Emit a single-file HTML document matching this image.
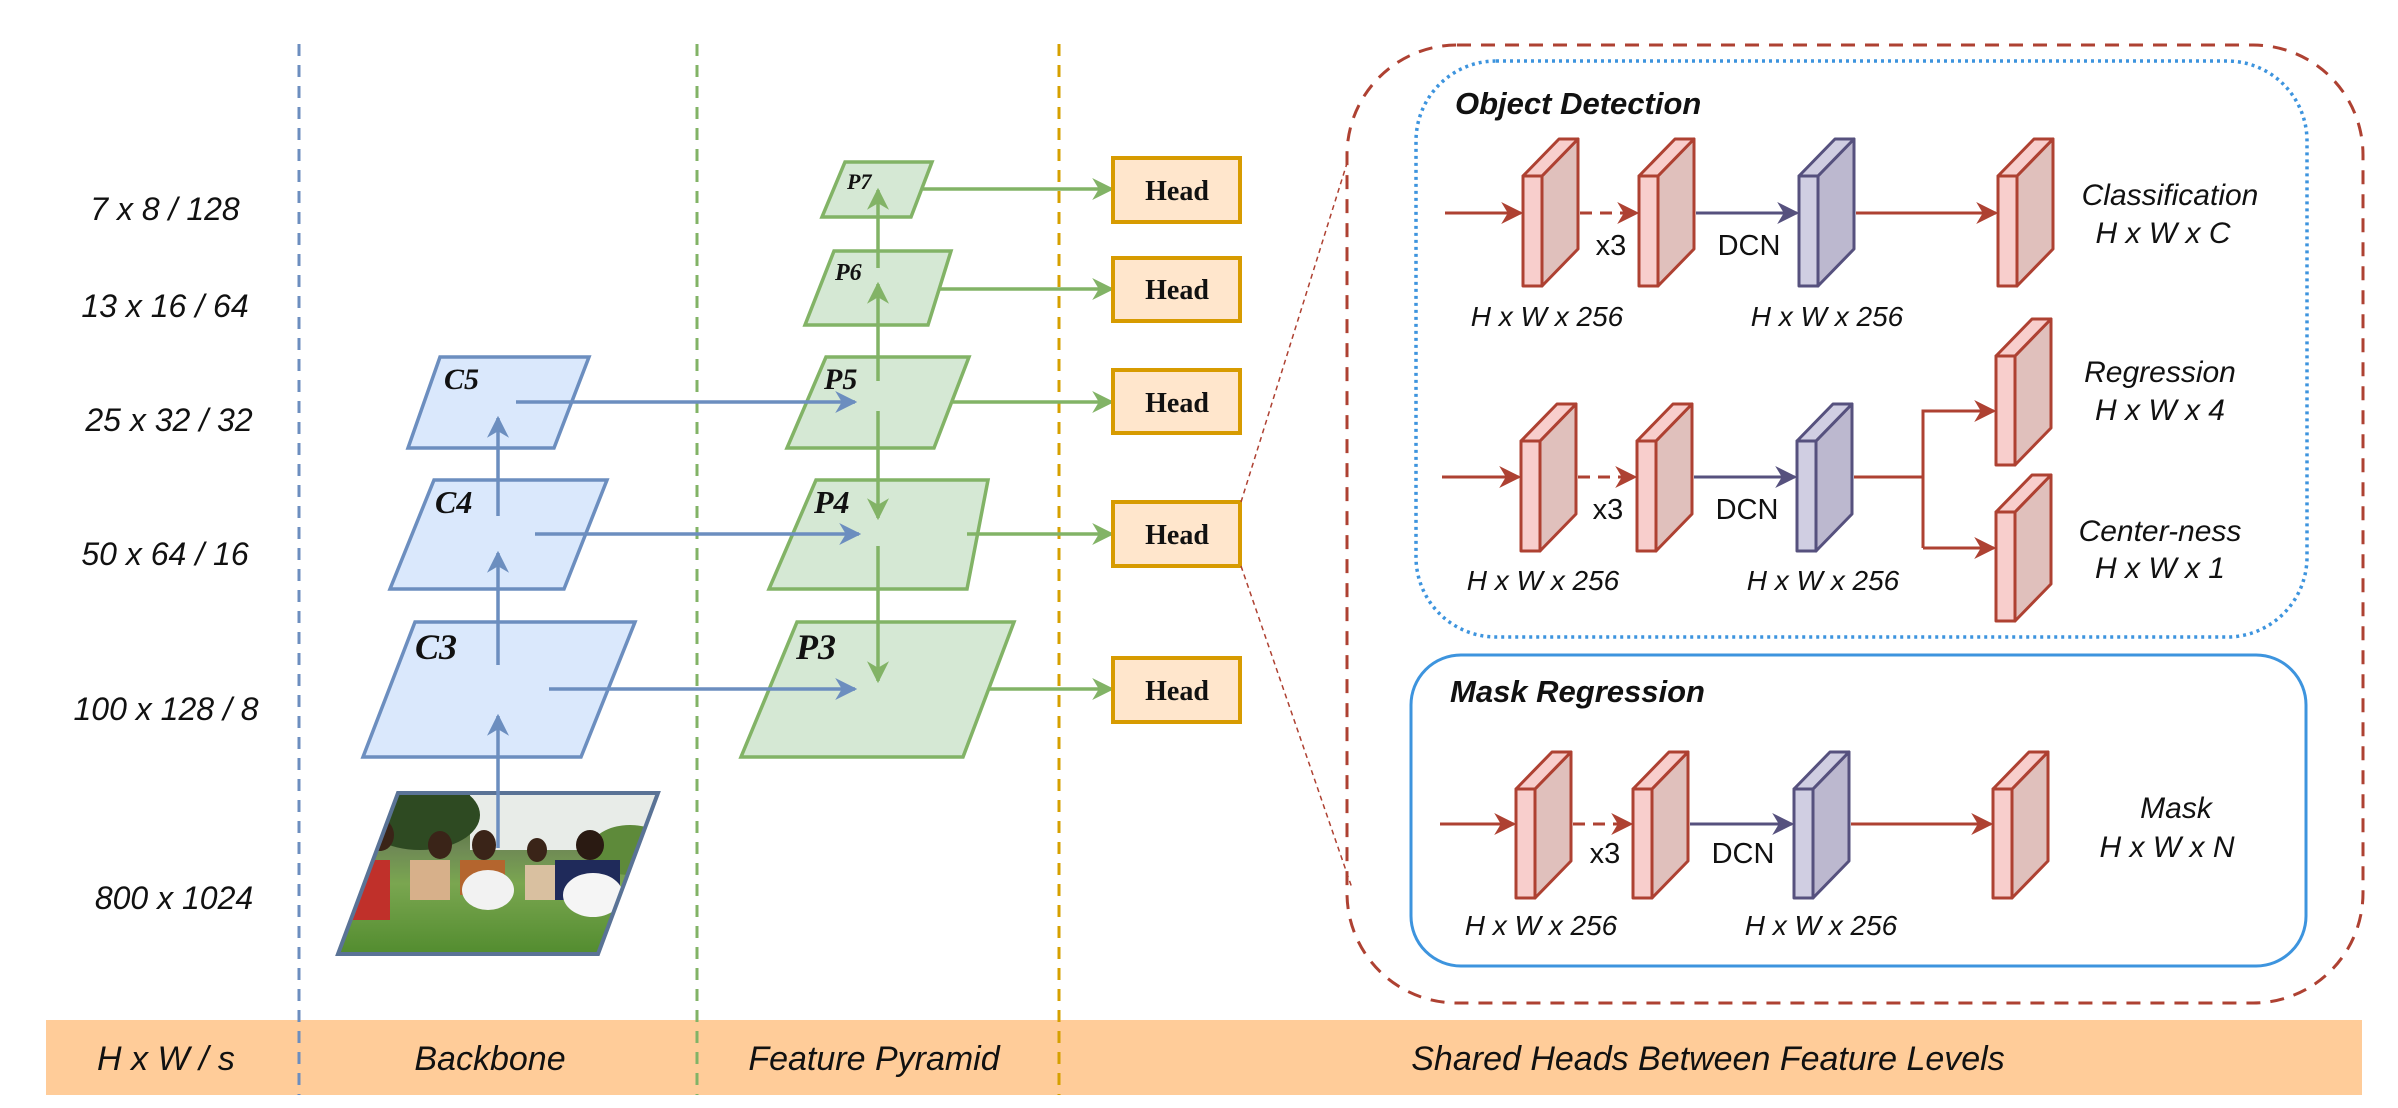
<!DOCTYPE html>
<html><head><meta charset="utf-8"><style>html,body{margin:0;padding:0;background:#fff}svg{display:block}</style></head>
<body>
<svg width="2398" height="1108" viewBox="0 0 2398 1108" xmlns="http://www.w3.org/2000/svg">
<defs>
<marker id="ag" viewBox="0 0 10 10" refX="9" refY="5" markerWidth="22" markerHeight="22" orient="auto" markerUnits="userSpaceOnUse"><path d="M0,0 L10,5 L0,10 L3,5 z" fill="#82b366"/></marker>
<marker id="ab2" viewBox="0 0 10 10" refX="9" refY="5" markerWidth="22" markerHeight="22" orient="auto" markerUnits="userSpaceOnUse"><path d="M0,0 L10,5 L0,10 L3,5 z" fill="#6c8ebf"/></marker>
<marker id="ar" viewBox="0 0 10 10" refX="9" refY="5" markerWidth="22" markerHeight="22" orient="auto" markerUnits="userSpaceOnUse"><path d="M0,0 L10,5 L0,10 L3,5 z" fill="#ae4132"/></marker>
<marker id="ap" viewBox="0 0 10 10" refX="9" refY="5" markerWidth="22" markerHeight="22" orient="auto" markerUnits="userSpaceOnUse"><path d="M0,0 L10,5 L0,10 L3,5 z" fill="#56517e"/></marker>
<clipPath id="ph"><polygon points="398,793 658,793 598,954 338,954"/></clipPath>
<linearGradient id="sky" x1="0" y1="0" x2="0" y2="1"><stop offset="0" stop-color="#3d5a2a"/><stop offset="0.35" stop-color="#6f8a55"/><stop offset="0.55" stop-color="#7aa650"/><stop offset="1" stop-color="#4f8a2c"/></linearGradient>
</defs>

<rect x="46" y="1020" width="2316" height="75" fill="#ffcc99"/>
<g font-family="Liberation Sans, sans-serif" font-style="italic" font-size="34" fill="#111" text-anchor="middle">
<text x="166" y="1070">H x W / s</text>
<text x="490" y="1070">Backbone</text>
<text x="874" y="1070">Feature Pyramid</text>
<text x="1708" y="1070">Shared Heads Between Feature Levels</text>
</g>

<line x1="299" y1="44" x2="299" y2="1095" stroke="#6c8ebf" stroke-width="3" stroke-dasharray="12,9"/>
<line x1="697" y1="44" x2="697" y2="1095" stroke="#82b366" stroke-width="3" stroke-dasharray="12,9"/>
<line x1="1059" y1="44" x2="1059" y2="1095" stroke="#d6a000" stroke-width="3" stroke-dasharray="12,9"/>

<g font-family="Liberation Sans, sans-serif" font-style="italic" font-size="32" fill="#111" text-anchor="middle">
<text x="165" y="220">7 x 8 / 128</text>
<text x="165" y="317">13 x 16 / 64</text>
<text x="169" y="431">25 x 32 / 32</text>
<text x="165" y="565">50 x 64 / 16</text>
<text x="166" y="720">100 x 128 / 8</text>
<text x="174" y="909">800 x 1024</text>
</g>

<g fill="#dae8fc" stroke="#6c8ebf" stroke-width="3.5">
<polygon points="440,357 589,357 554,448 408,448"/>
<polygon points="434,480 607,480 564,589 390,589"/>
<polygon points="415,622 635,622 581,757 363,757"/>
</g>
<g clip-path="url(#ph)">
<rect x="330" y="790" width="340" height="170" fill="url(#sky)"/>
<rect x="470" y="790" width="200" height="60" fill="#e8ece8"/>
<ellipse cx="420" cy="815" rx="60" ry="35" fill="#2e4a22"/>
<ellipse cx="630" cy="850" rx="40" ry="25" fill="#5e8a3a"/>
<rect x="350" y="860" width="40" height="60" fill="#c0302a"/>
<ellipse cx="380" cy="835" rx="14" ry="16" fill="#3a2418"/>
<rect x="410" y="860" width="40" height="40" fill="#d7b08a"/>
<ellipse cx="440" cy="845" rx="12" ry="14" fill="#3a2418"/>
<rect x="460" y="860" width="45" height="35" fill="#b4652e"/>
<ellipse cx="484" cy="845" rx="12" ry="15" fill="#3a2418"/>
<ellipse cx="488" cy="890" rx="26" ry="20" fill="#f2f2f2"/>
<rect x="525" y="865" width="30" height="35" fill="#d9c0a0"/>
<ellipse cx="537" cy="850" rx="10" ry="12" fill="#3a2418"/>
<rect x="555" y="860" width="65" height="40" fill="#1f2a5a"/>
<ellipse cx="590" cy="845" rx="14" ry="15" fill="#2a1a12"/>
<ellipse cx="593" cy="895" rx="30" ry="22" fill="#f5f5f5"/>
</g>
<polygon points="398,793 658,793 598,954 338,954" fill="none" stroke="#5a7396" stroke-width="4"/>
<g font-family="Liberation Serif, serif" font-style="italic" font-weight="bold" fill="#111">
<text x="444" y="389" font-size="30">C5</text>
<text x="435" y="513" font-size="32">C4</text>
<text x="415" y="659" font-size="36">C3</text>
</g>

<g fill="#d5e8d4" stroke="#82b366" stroke-width="3.5">
<polygon points="845,162 932,162 911,217 822,217"/>
<polygon points="834,251 951,251 928,325 805,325"/>
<polygon points="826,357 969,357 934,448 787,448"/>
<polygon points="816,480 988,480 967,589 769,589"/>
<polygon points="797,622 1014,622 963,757 741,757"/>
</g>
<g font-family="Liberation Serif, serif" font-style="italic" font-weight="bold" fill="#111">
<text x="847" y="189" font-size="22">P7</text>
<text x="835" y="280" font-size="24">P6</text>
<text x="824" y="389" font-size="30">P5</text>
<text x="814" y="513" font-size="32">P4</text>
<text x="796" y="659" font-size="36">P3</text>
</g>

<g stroke="#6c8ebf" stroke-width="3.5" fill="none">
<line x1="498" y1="848" x2="498" y2="716" marker-end="url(#ab2)"/>
<line x1="498" y1="665" x2="498" y2="553" marker-end="url(#ab2)"/>
<line x1="498" y1="516" x2="498" y2="418" marker-end="url(#ab2)"/>
<line x1="516" y1="402" x2="855" y2="402" marker-end="url(#ab2)"/>
<line x1="535" y1="534" x2="859" y2="534" marker-end="url(#ab2)"/>
<line x1="549" y1="689" x2="855" y2="689" marker-end="url(#ab2)"/>
</g>
<g stroke="#82b366" stroke-width="3.5" fill="none">
<line x1="878" y1="381" x2="878" y2="284" marker-end="url(#ag)"/>
<line x1="878" y1="268" x2="878" y2="190" marker-end="url(#ag)"/>
<line x1="878" y1="411" x2="878" y2="518" marker-end="url(#ag)"/>
<line x1="878" y1="546" x2="878" y2="681" marker-end="url(#ag)"/>
<line x1="923" y1="189" x2="1112" y2="189" marker-end="url(#ag)"/>
<line x1="938" y1="289" x2="1112" y2="289" marker-end="url(#ag)"/>
<line x1="953" y1="402" x2="1112" y2="402" marker-end="url(#ag)"/>
<line x1="967" y1="534" x2="1112" y2="534" marker-end="url(#ag)"/>
<line x1="989" y1="689" x2="1112" y2="689" marker-end="url(#ag)"/>
</g>
<g fill="#ffe6cc" stroke="#d79b00" stroke-width="4">
<rect x="1113" y="158" width="127" height="64"/>
<rect x="1113" y="258" width="127" height="63"/>
<rect x="1113" y="370" width="127" height="63"/>
<rect x="1113" y="502" width="127" height="64"/>
<rect x="1113" y="658" width="127" height="64"/>
</g>
<g font-family="Liberation Serif, serif" font-weight="bold" font-size="28" fill="#111" text-anchor="middle">
<text x="1177" y="200">Head</text>
<text x="1177" y="299">Head</text>
<text x="1177" y="412">Head</text>
<text x="1177" y="544">Head</text>
<text x="1177" y="700">Head</text>
</g>

<line x1="1241" y1="502" x2="1348" y2="160" stroke="#ae4132" stroke-width="1.5" stroke-dasharray="5,4"/>
<line x1="1241" y1="566" x2="1352" y2="888" stroke="#ae4132" stroke-width="1.5" stroke-dasharray="5,4"/>

<rect x="1347" y="45" width="1016" height="958" rx="110" ry="110" fill="none" stroke="#ae4132" stroke-width="3" stroke-dasharray="14,10"/>
<rect x="1416" y="61" width="891" height="576" rx="80" ry="80" fill="none" stroke="#3d94de" stroke-width="3.5" stroke-dasharray="3,4"/>
<rect x="1411" y="655" width="895" height="311" rx="50" ry="50" fill="none" stroke="#3d94de" stroke-width="3"/>

<g font-family="Liberation Sans, sans-serif" font-style="italic" font-weight="bold" font-size="31" fill="#111">
<text x="1455" y="114">Object Detection</text>
<text x="1450" y="702">Mask Regression</text>
</g>

<g stroke-width="3" stroke-linejoin="round">
<g fill="#f8cecc" stroke="#ae4132">
<polygon points="1542,176 1578,139 1578,249 1542,286" fill="#e0c0bc"/>
<polygon points="1523,176 1559,139 1578,139 1542,176"/>
<rect x="1523" y="176" width="19" height="110"/>
</g>
<g fill="#f8cecc" stroke="#ae4132">
<polygon points="1658,176 1694,139 1694,249 1658,286" fill="#e0c0bc"/>
<polygon points="1639,176 1675,139 1694,139 1658,176"/>
<rect x="1639" y="176" width="19" height="110"/>
</g>
<g fill="#d0cee2" stroke="#56517e">
<polygon points="1818,176 1854,139 1854,249 1818,286" fill="#bcb8cf"/>
<polygon points="1799,176 1835,139 1854,139 1818,176"/>
<rect x="1799" y="176" width="19" height="110"/>
</g>
<g fill="#f8cecc" stroke="#ae4132">
<polygon points="2017,176 2053,139 2053,249 2017,286" fill="#e0c0bc"/>
<polygon points="1998,176 2034,139 2053,139 2017,176"/>
<rect x="1998" y="176" width="19" height="110"/>
</g>
<g fill="#f8cecc" stroke="#ae4132">
<polygon points="1540,441 1576,404 1576,514 1540,551" fill="#e0c0bc"/>
<polygon points="1521,441 1557,404 1576,404 1540,441"/>
<rect x="1521" y="441" width="19" height="110"/>
</g>
<g fill="#f8cecc" stroke="#ae4132">
<polygon points="1656,441 1692,404 1692,514 1656,551" fill="#e0c0bc"/>
<polygon points="1637,441 1673,404 1692,404 1656,441"/>
<rect x="1637" y="441" width="19" height="110"/>
</g>
<g fill="#d0cee2" stroke="#56517e">
<polygon points="1816,441 1852,404 1852,514 1816,551" fill="#bcb8cf"/>
<polygon points="1797,441 1833,404 1852,404 1816,441"/>
<rect x="1797" y="441" width="19" height="110"/>
</g>
<g fill="#f8cecc" stroke="#ae4132">
<polygon points="2015,356 2051,319 2051,428 2015,465" fill="#e0c0bc"/>
<polygon points="1996,356 2032,319 2051,319 2015,356"/>
<rect x="1996" y="356" width="19" height="109"/>
</g>
<g fill="#f8cecc" stroke="#ae4132">
<polygon points="2015,512 2051,475 2051,584 2015,621" fill="#e0c0bc"/>
<polygon points="1996,512 2032,475 2051,475 2015,512"/>
<rect x="1996" y="512" width="19" height="109"/>
</g>
<g fill="#f8cecc" stroke="#ae4132">
<polygon points="1535,789 1571,752 1571,861 1535,898" fill="#e0c0bc"/>
<polygon points="1516,789 1552,752 1571,752 1535,789"/>
<rect x="1516" y="789" width="19" height="109"/>
</g>
<g fill="#f8cecc" stroke="#ae4132">
<polygon points="1652,789 1688,752 1688,861 1652,898" fill="#e0c0bc"/>
<polygon points="1633,789 1669,752 1688,752 1652,789"/>
<rect x="1633" y="789" width="19" height="109"/>
</g>
<g fill="#d0cee2" stroke="#56517e">
<polygon points="1813,789 1849,752 1849,861 1813,898" fill="#bcb8cf"/>
<polygon points="1794,789 1830,752 1849,752 1813,789"/>
<rect x="1794" y="789" width="19" height="109"/>
</g>
<g fill="#f8cecc" stroke="#ae4132">
<polygon points="2012,789 2048,752 2048,861 2012,898" fill="#e0c0bc"/>
<polygon points="1993,789 2029,752 2048,752 2012,789"/>
<rect x="1993" y="789" width="19" height="109"/>
</g>
</g>

<g stroke-width="3" fill="none">
<line x1="1445" y1="213" x2="1521" y2="213" stroke="#ae4132" marker-end="url(#ar)"/>
<line x1="1580" y1="213" x2="1637" y2="213" stroke="#ae4132" stroke-dasharray="12,8" marker-end="url(#ar)"/>
<line x1="1696" y1="213" x2="1797" y2="213" stroke="#56517e" marker-end="url(#ap)"/>
<line x1="1856" y1="213" x2="1996" y2="213" stroke="#ae4132" marker-end="url(#ar)"/>
<line x1="1442" y1="477" x2="1519" y2="477" stroke="#ae4132" marker-end="url(#ar)"/>
<line x1="1578" y1="477" x2="1635" y2="477" stroke="#ae4132" stroke-dasharray="12,8" marker-end="url(#ar)"/>
<line x1="1694" y1="477" x2="1795" y2="477" stroke="#56517e" marker-end="url(#ap)"/>
<polyline points="1854,477 1923,477" stroke="#ae4132"/>
<polyline points="1923,548 1923,411 1994,411" stroke="#ae4132" marker-end="url(#ar)"/>
<line x1="1923" y1="548" x2="1994" y2="548" stroke="#ae4132" marker-end="url(#ar)"/>
<line x1="1440" y1="824" x2="1514" y2="824" stroke="#ae4132" marker-end="url(#ar)"/>
<line x1="1573" y1="824" x2="1631" y2="824" stroke="#ae4132" stroke-dasharray="12,8" marker-end="url(#ar)"/>
<line x1="1690" y1="824" x2="1792" y2="824" stroke="#56517e" marker-end="url(#ap)"/>
<line x1="1851" y1="824" x2="1991" y2="824" stroke="#ae4132" marker-end="url(#ar)"/>
</g>

<g font-family="Liberation Sans, sans-serif" font-size="29" fill="#111" text-anchor="middle">
<text x="1611" y="255">x3</text><text x="1749" y="255">DCN</text>
<text x="1608" y="519">x3</text><text x="1747" y="519">DCN</text>
<text x="1605" y="863">x3</text><text x="1743" y="863">DCN</text>
</g>
<g font-family="Liberation Sans, sans-serif" font-style="italic" font-size="28" fill="#111" text-anchor="middle">
<text x="1547" y="326">H x W x 256</text><text x="1827" y="326">H x W x 256</text>
<text x="1543" y="590">H x W x 256</text><text x="1823" y="590">H x W x 256</text>
<text x="1541" y="935">H x W x 256</text><text x="1821" y="935">H x W x 256</text>
</g>
<g font-family="Liberation Sans, sans-serif" font-style="italic" font-size="30" fill="#111" text-anchor="middle">
<text x="2170" y="205">Classification</text><text x="2163" y="243">H x W x C</text>
<text x="2160" y="382">Regression</text><text x="2160" y="420">H x W x 4</text>
<text x="2160" y="541">Center-ness</text><text x="2160" y="578">H x W x 1</text>
<text x="2176" y="818">Mask</text><text x="2167" y="857">H x W x N</text>
</g>
</svg>
</body></html>
